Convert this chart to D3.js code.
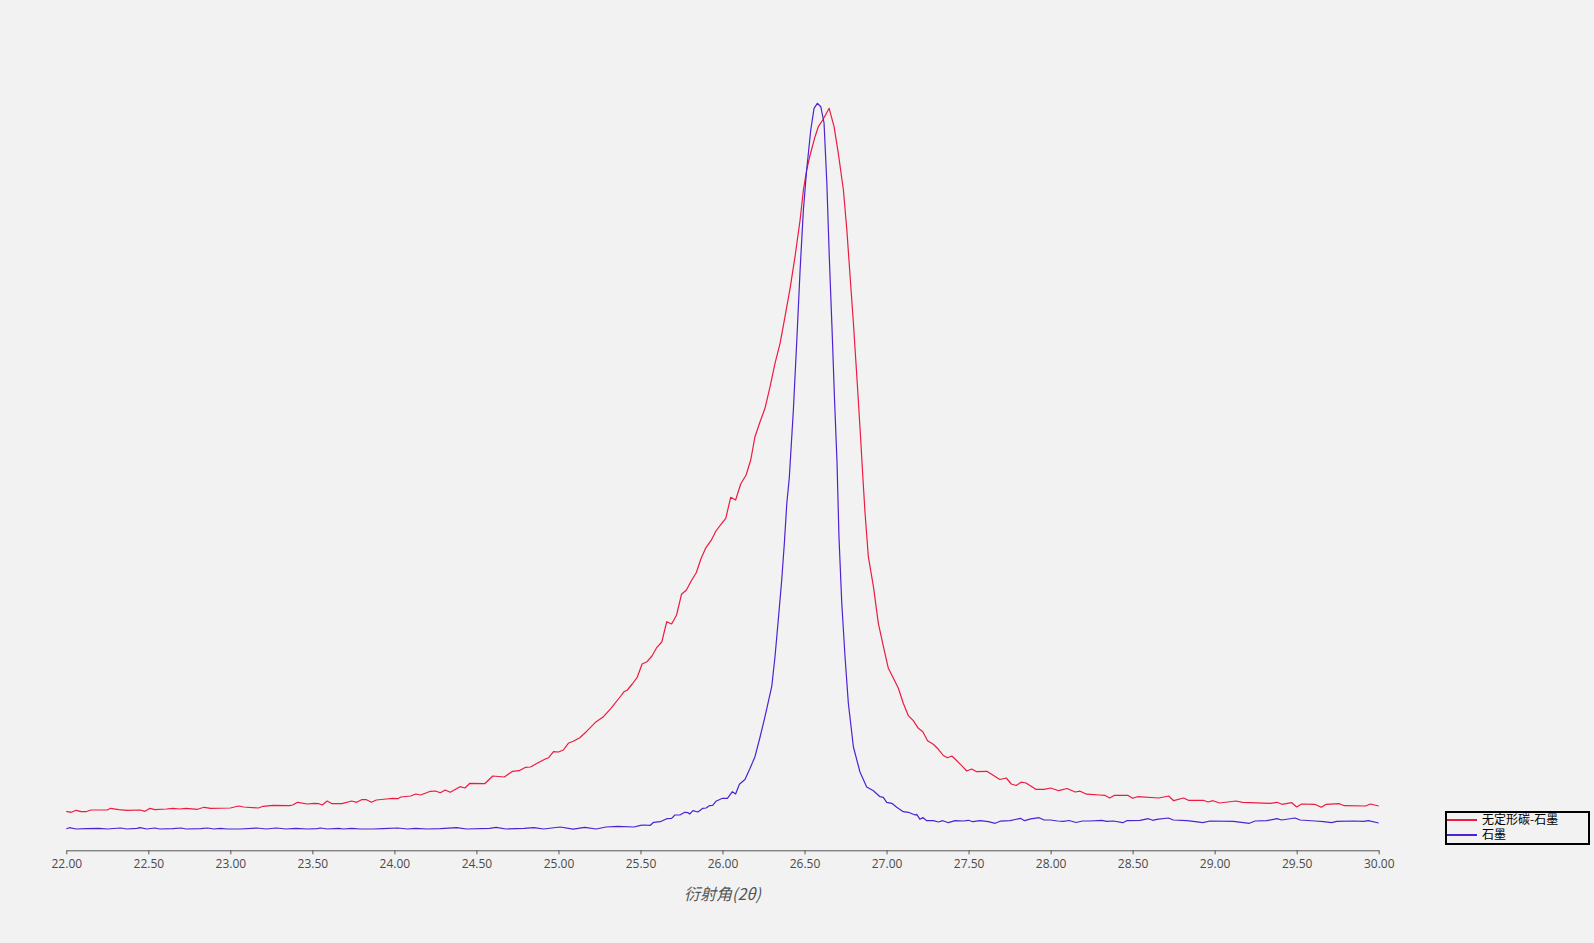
<!DOCTYPE html>
<html>
<head>
<meta charset="utf-8">
<script src="https://cdn.jsdelivr.net/npm/d3@7"></script>
<style>
  html, body { margin: 0; padding: 0; background: #f2f2f2; }
  svg { display: block; }
</style>
</head>
<body>
<svg id="chart" width="1594" height="943"></svg>
<script>
// ---- data ----
const seriesNames = ["无定形碳-石墨", "石墨"];
const xTickValues = [22, 22.5, 23, 23.5, 24, 24.5, 25, 25.5, 26, 26.5, 27, 27.5, 28, 28.5, 29, 29.5, 30];
const axisTitle = "衍射角(2θ)";

const redTheta = [22.00,22.03,22.06,22.09,22.12,22.15,22.25,22.27,22.32,22.37,22.45,22.48,22.51,22.54,22.61,22.65,22.69,22.73,22.80,22.84,22.88,23.00,23.05,23.08,23.17,23.20,23.26,23.36,23.38,23.41,23.47,23.51,23.54,23.56,23.59,23.62,23.68,23.74,23.77,23.80,23.83,23.86,23.89,23.95,23.99,24.02,24.04,24.10,24.13,24.16,24.22,24.25,24.28,24.31,24.34,24.40,24.43,24.46,24.55,24.60,24.67,24.72,24.76,24.80,24.83,24.87,24.92,24.94,24.97,25.00,25.03,25.06,25.09,25.13,25.17,25.23,25.27,25.32,25.38,25.40,25.42,25.45,25.48,25.51,25.54,25.57,25.60,25.63,25.66,25.69,25.72,25.75,25.78,25.81,25.84,25.87,25.90,25.93,25.96,26.00,26.02,26.05,26.08,26.111,26.144,26.172,26.198,26.229,26.259,26.290,26.320,26.351,26.381,26.412,26.442,26.473,26.493,26.513,26.534,26.564,26.584,26.611,26.650,26.680,26.706,26.737,26.758,26.778,26.798,26.819,26.839,26.856,26.869,26.889,26.920,26.950,26.981,27.011,27.042,27.072,27.102,27.133,27.163,27.194,27.221,27.250,27.285,27.316,27.346,27.371,27.398,27.427,27.458,27.489,27.519,27.550,27.611,27.65,27.69,27.73,27.76,27.79,27.82,27.85,27.91,27.96,28.00,28.05,28.10,28.15,28.18,28.22,28.30,28.33,28.36,28.39,28.47,28.50,28.53,28.66,28.72,28.75,28.81,28.84,28.93,28.96,28.99,29.03,29.13,29.17,29.34,29.38,29.41,29.47,29.50,29.53,29.61,29.65,29.68,29.76,29.79,29.92,29.95,30.00];
const redIntensity = [390,380,400,386,386,403,403,420,406,400,403,390,420,406,413,420,413,420,410,430,420,423,443,433,423,440,450,446,453,480,463,470,466,453,493,466,466,493,480,506,506,480,503,513,520,516,533,543,563,553,590,593,576,603,580,636,623,670,666,743,733,790,796,830,833,870,913,926,986,983,1003,1070,1090,1126,1186,1286,1330,1420,1543,1586,1603,1663,1730,1863,1886,1943,2030,2083,2286,2263,2353,2560,2603,2696,2776,2920,3030,3096,3193,3280,3320,3530,3503,3663,3753,3903,4136,4286,4420,4636,4870,5070,5336,5620,5936,6303,6603,6803,6953,7136,7236,7303,7420,7236,6970,6603,6203,5736,5270,4736,4203,3720,3370,2936,2636,2270,2036,1820,1720,1620,1470,1346,1296,1220,1186,1096,1060,1010,948,925,943,898,846,793,813,786,790,750,708,723,663,648,681,673,610,610,623,596,618,583,591,561,553,550,523,550,550,520,536,523,543,496,523,500,500,483,496,473,493,480,470,480,460,476,433,463,460,430,460,466,446,443,463,443];

const blueTheta = [22.00,22.02,22.06,22.12,22.20,22.25,22.33,22.37,22.43,22.45,22.49,22.54,22.57,22.65,22.70,22.73,22.82,22.86,22.90,22.94,22.98,23.06,23.16,23.22,23.28,23.34,23.40,23.47,23.53,23.55,23.59,23.66,23.69,23.74,23.79,23.87,23.93,24.02,24.08,24.13,24.20,24.28,24.38,24.44,24.58,24.62,24.68,24.79,24.85,24.91,25.01,25.09,25.16,25.23,25.29,25.36,25.46,25.50,25.52,25.56,25.58,25.62,25.66,25.69,25.71,25.74,25.77,25.79,25.80,25.82,25.85,25.88,25.90,25.92,25.94,25.96,26.00,26.03,26.06,26.08,26.103,26.137,26.168,26.198,26.229,26.259,26.300,26.320,26.340,26.361,26.377,26.392,26.407,26.432,26.453,26.473,26.493,26.513,26.538,26.558,26.578,26.599,26.619,26.636,26.651,26.668,26.683,26.698,26.710,26.727,26.747,26.767,26.798,26.838,26.879,26.920,26.960,26.980,27.001,27.032,27.062,27.102,27.133,27.174,27.184,27.204,27.221,27.245,27.285,27.316,27.343,27.377,27.418,27.468,27.499,27.526,27.571,27.621,27.662,27.692,27.753,27.784,27.816,27.841,27.880,27.930,27.960,28.000,28.042,28.078,28.113,28.155,28.195,28.241,28.312,28.342,28.383,28.440,28.464,28.545,28.596,28.623,28.647,28.718,28.748,28.830,28.870,28.928,28.972,29.114,29.212,29.246,29.318,29.379,29.409,29.490,29.521,29.612,29.663,29.714,29.744,29.846,29.907,29.937,30.000];
const blueIntensity = [216,226,213,216,220,213,223,213,220,226,213,223,213,216,223,213,216,223,213,220,213,213,223,213,223,213,220,213,216,223,213,220,213,220,213,213,216,223,213,220,213,216,226,213,220,230,213,220,226,213,233,212,230,213,233,240,233,250,253,250,280,286,316,320,353,353,380,376,363,396,383,420,423,446,450,490,520,520,586,563,660,708,820,936,1133,1336,1636,1936,2303,2703,3070,3470,3720,4403,5103,5803,6403,6803,7203,7420,7470,7436,7273,6673,5933,5203,4503,3883,3133,2473,1933,1473,1033,783,633,596,536,530,480,470,430,386,380,353,360,310,328,296,296,283,296,276,296,293,300,286,296,286,270,291,296,308,320,296,315,326,303,303,293,290,298,278,293,293,300,290,293,276,296,300,316,300,310,323,303,296,290,276,293,290,270,293,296,316,303,323,303,293,286,276,290,293,290,296,273];

const seriesColors = ["#ee1a40", "#4d22d2"];

// ---- chart ----
const svg = d3.select("#chart");
svg.append("rect").attr("width", 1594).attr("height", 943).attr("fill", "#f2f2f2");

const x = d3.scaleLinear().domain([22, 30]).range([66.3, 1378.7]);
const y = d3.scaleLinear().domain([0, 7500]).range([850.3, 100.3]);

const series = [
  { name: seriesNames[0], color: seriesColors[0], pts: redTheta.map((t, i) => [t, redIntensity[i]]) },
  { name: seriesNames[1], color: seriesColors[1], pts: blueTheta.map((t, i) => [t, blueIntensity[i]]) }
];

const line = d3.line().x(d => x(d[0])).y(d => y(d[1]));

svg.append("g").selectAll("path").data(series).join("path")
  .attr("d", d => line(d.pts))
  .attr("fill", "none")
  .attr("stroke", d => d.color)
  .attr("stroke-width", 1.2)
  .attr("stroke-linejoin", "round");

const axis = d3.axisBottom(x)
  .tickValues(xTickValues)
  .tickFormat(d3.format(".2f"))
  .tickSizeInner(4)
  .tickSizeOuter(0)
  .tickPadding(5.5);

const gx = svg.append("g").attr("transform", "translate(0,850.3)").call(axis);
gx.select(".domain").attr("stroke", "#555").attr("stroke-width", 1);
gx.selectAll(".tick line").attr("stroke", "#555");
gx.selectAll(".tick text")
  .attr("fill", "#4a4a4a")
  .style("font-family", "'Open Sans', 'Noto Sans', sans-serif")
  .style("font-size", "12px");

svg.append("text")
  .attr("x", x(26)).attr("y", 900)
  .attr("text-anchor", "middle")
  .attr("fill", "#555")
  .style("font-family", "'Noto Sans CJK SC', sans-serif")
  .style("font-style", "italic")
  .style("font-size", "16px")
  .text(axisTitle);

// ---- legend ----
const lg = svg.append("g");
lg.append("rect")
  .attr("x", 1446).attr("y", 812).attr("width", 143).attr("height", 32)
  .attr("fill", "#f2f2f2").attr("stroke", "#000").attr("stroke-width", 2);
const items = lg.selectAll("g.item").data(series).join("g").attr("class", "item")
  .attr("transform", (d, i) => `translate(0, ${820 + i * 15})`);
items.append("line")
  .attr("x1", 1447).attr("x2", 1477).attr("y1", 0).attr("y2", 0)
  .attr("stroke", d => d.color).attr("stroke-width", 2);
items.append("text")
  .attr("x", 1482).attr("y", 0).attr("dy", "0.36em")
  .attr("fill", "#000")
  .style("font-family", "'Noto Sans CJK SC', sans-serif")
  .style("font-size", "12px")
  .text(d => d.name);
</script>
</body>
</html>
